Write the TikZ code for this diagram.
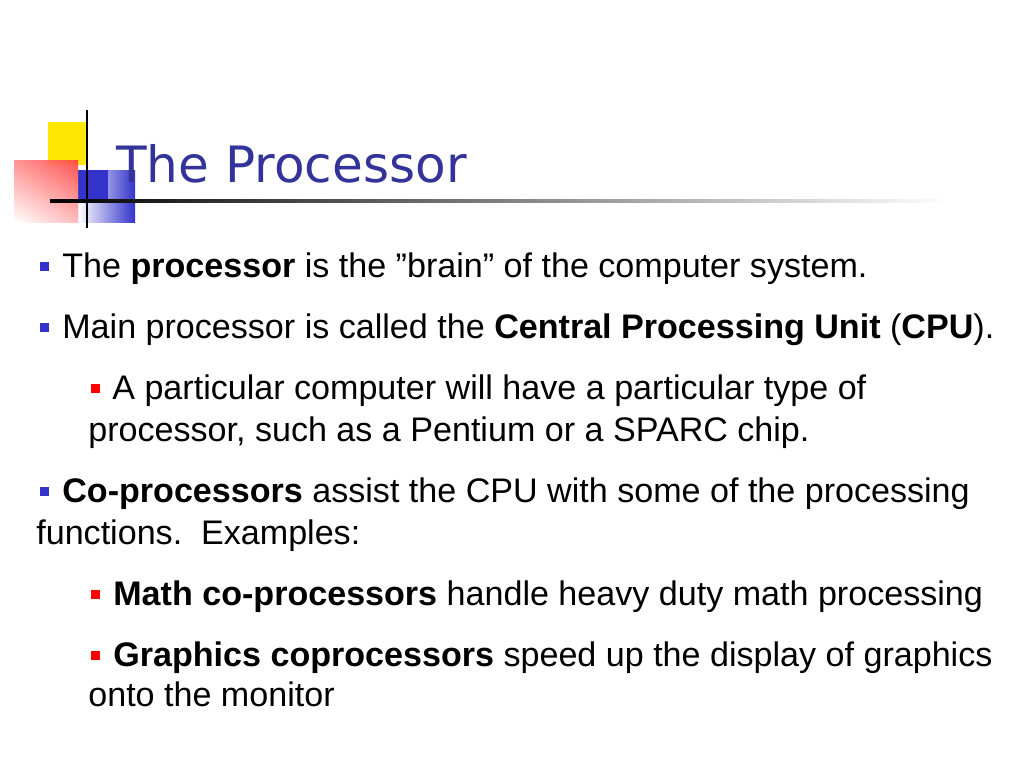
\documentclass[tikz,border=0pt]{standalone}
\usepackage{fontspec}
\setmainfont{Liberation Sans}
\newfontfamily\titlefont{DejaVu Sans}
\definecolor{bbl}{RGB}{51,51,204}
\definecolor{ttl}{RGB}{51,51,153}
\begin{document}
\begin{tikzpicture}[x=0.02cm,y=-0.02cm,
  txt/.style={anchor=base west,inner sep=0,font=\fontsize{19.4}{22}\selectfont},
  bb/.style={fill=bbl},
  rb/.style={fill=red}]
\useasboundingbox (0,0) rectangle (1024,768);
% logo
\fill[yellow!90!orange] (48,122) rectangle (88,165);
\shade[left color=white,right color=bbl] (78,170) rectangle (135,222);
\fill[bbl] (78,170) rectangle (108,200);
\shade[left color=white,right color=red!80,opacity=0.8] (14,160) rectangle (78,222);
\shade[top color=red!70,bottom color=white,opacity=0.6] (14,160) rectangle (78,222);
\draw[line width=1.2pt] (87,110) -- (87,228);
\shade[left color=black,right color=white] (50,199) rectangle (950,202);
% title
\node[anchor=base west,inner sep=0,font=\titlefont\fontsize{28.5}{32}\selectfont,text=ttl] (title) at (116,182) {The Processor};
% bullets
\fill[bb] (40,262) rectangle (49,271);
\node[txt] (l1) at (62,277) {The \textbf{processor} is the \symbol{34}brain\symbol{34} of the computer system.};
\fill[bb] (40,323) rectangle (49,332);
\node[txt] (l2) at (62,338) {Main processor is called the \textbf{Central Processing Unit} (\textbf{CPU}).};
\fill[rb] (91,384) rectangle (100,393);
\node[txt] (l3) at (112,399) {A particular computer will have a particular type of};
\node[txt] (l4) at (88,441) {processor, such as a Pentium or a SPARC chip.};
\fill[bb] (40,487) rectangle (49,496);
\node[txt] (l5) at (62,502) {\textbf{Co-processors} assist the CPU with some of the processing};
\node[txt] (l6) at (36,544) {functions.\ \ Examples:};
\fill[rb] (91,590) rectangle (100,599);
\node[txt] (l7) at (113,605) {\textbf{Math co-processors} handle heavy duty math processing};
\fill[rb] (91,651) rectangle (100,660);
\node[txt] (l8) at (113,666) {\textbf{Graphics coprocessors} speed up the display of graphics};
\node[txt] (l9) at (88,706) {onto the monitor};
\end{tikzpicture}
\end{document}
